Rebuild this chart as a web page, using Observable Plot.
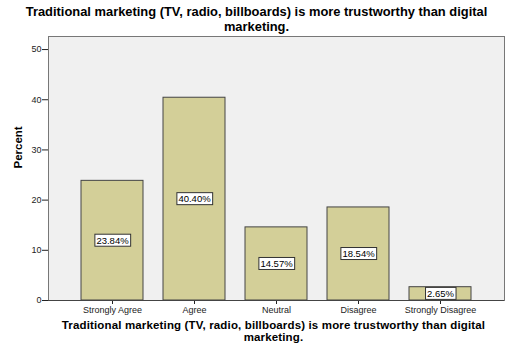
<!DOCTYPE html>
<html><head><meta charset="utf-8">
<script src="https://cdn.jsdelivr.net/npm/d3@7"></script>
<script src="https://cdn.jsdelivr.net/npm/@observablehq/plot@0.6"></script>
<style>
body{margin:0;background:#fff;width:511px;font-family:"Liberation Sans",Arial,sans-serif;}
#title{font-weight:bold;font-size:12.9px;line-height:14.5px;text-align:center;padding-top:5px;height:29px;color:#000;padding-left:2px;}
#xlabel{font-weight:bold;font-size:11.5px;line-height:12px;text-align:center;color:#000;padding-left:36px;letter-spacing:0.15px;padding-top:1px;}
</style></head>
<body>
<div id="title">Traditional marketing (TV, radio, billboards) is more trustworthy than digital<br>marketing.</div>
<div id="chart"></div>
<div id="xlabel">Traditional marketing (TV, radio, billboards) is more trustworthy than digital<br>marketing.</div>
<script>
const categories = ["Strongly Agree","Agree","Neutral","Disagree","Strongly Disagree"];
const percents = [23.84, 40.40, 14.57, 18.54, 2.65];
const yTicks = [0,10,20,30,40,50];
const data = categories.map((c,i)=>({cat:c, pct:percents[i]}));

const chart = Plot.plot({
  width:511, height:284,
  marginTop:2, marginBottom:18, marginLeft:48, marginRight:7,
  style:{fontFamily:'"Liberation Sans", Arial, sans-serif', fontSize:"9px", background:"transparent", color:"#222"},
  x:{domain:categories, paddingInner:0.245, paddingOuter:0.4, label:null, tickSize:4, tickPadding:2},
  y:{domain:[0,52.6], ticks:yTicks, label:null, tickSize:6, tickPadding:1, tickFormat:d=>d},
  marks:[
    Plot.frame({fill:"#f0f0f0", stroke:"#777"}),
    Plot.barY(data,{x:"cat", y:"pct", fill:"#d3cf98", stroke:"#444", strokeWidth:1}),
    Plot.text(data,{x:"cat", y:d=>d.pct/2, text:d=>d.pct.toFixed(2)+"%", fill:"#000", fontSize:9.5, className:"vlabel"}),
    Plot.text(["Percent"],{frameAnchor:"left", text:d=>d, rotate:-90, dx:-30, fontWeight:"bold", fontSize:11.5, fill:"#000"}),
    Plot.ruleY([0],{stroke:"#444"})
  ]
});
document.getElementById("chart").appendChild(chart);
// white boxes behind value labels
chart.querySelectorAll("g.vlabel text").forEach(t=>{
  const b = t.getBBox();
  const r = document.createElementNS("http://www.w3.org/2000/svg","rect");
  r.setAttribute("x", b.x-1.5); r.setAttribute("y", b.y-0.5);
  r.setAttribute("width", b.width+3); r.setAttribute("height", b.height+1);
  r.setAttribute("fill","#fff"); r.setAttribute("stroke","#333"); r.setAttribute("stroke-width","1");
  const tr = t.getAttribute("transform");
  if (tr) r.setAttribute("transform", tr);
  t.parentNode.insertBefore(r, t);
});
</script>
</body></html>
